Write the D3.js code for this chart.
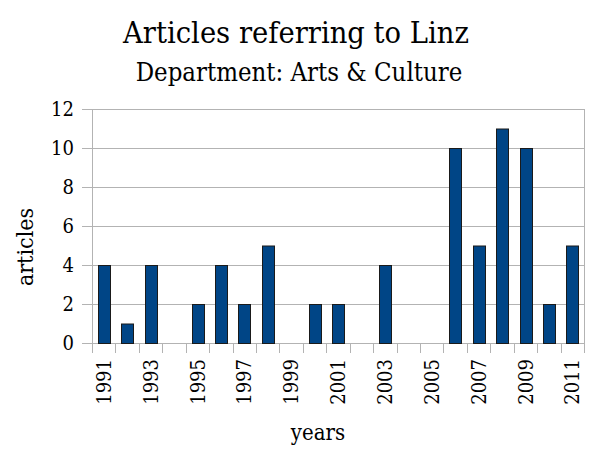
<!DOCTYPE html>
<html>
<head>
<meta charset="utf-8">
<script src="https://cdn.jsdelivr.net/npm/d3@7"></script>
<style>
  body { margin: 0; background: #fff; }
  text { font-family: "DejaVu Serif Condensed", "DejaVu Serif", serif; font-stretch: condensed; fill: #000; }
</style>
</head>
<body>
<div id="chart"></div>
<script>
const years = ["1991","1992","1993","1994","1995","1996","1997","1998","1999","2000",
  "2001","2002","2003","2004","2005","2006","2007","2008","2009","2010","2011"];
const articles = [4, 1, 4, 0, 2, 4, 2, 5, 0, 2, 2, 0, 4, 0, 0, 10, 5, 11, 10, 2, 5];
const yTicks = [0, 2, 4, 6, 8, 10, 12];
const yearLabels = ["1991","1993","1995","1997","1999","2001","2003","2005","2007","2009","2011"];

const width = 591, height = 450;
const plotL = 92, plotR = 584, plotT = 109, plotB = 343;
const grid = "#b3b3b3";

const data = years.map((yr, i) => ({ year: yr, n: articles[i] }));

const svg = d3.select("#chart")
  .append("svg")
  .attr("width", width)
  .attr("height", height);

const x = d3.scaleBand()
  .domain(years)
  .range([plotL, plotR])
  .padding(0);

const y = d3.scaleLinear()
  .domain([0, 12])
  .range([plotB, plotT]);

// horizontal gridlines with ticks sticking out left
svg.selectAll("line.hgrid")
  .data(yTicks)
  .enter()
  .append("line")
  .attr("x1", plotL - 10)
  .attr("x2", plotR)
  .attr("y1", d => y(d) + 0.5)
  .attr("y2", d => y(d) + 0.5)
  .attr("stroke", grid)
  .attr("stroke-width", 1);

// left axis line and right border
svg.append("line")
  .attr("x1", plotL + 0.5).attr("x2", plotL + 0.5)
  .attr("y1", plotT).attr("y2", plotB + 10)
  .attr("stroke", grid);
svg.append("line")
  .attr("x1", plotR + 0.5).attr("x2", plotR + 0.5)
  .attr("y1", plotT).attr("y2", plotB + 10)
  .attr("stroke", grid);

// category ticks below the axis
svg.selectAll("line.xtick")
  .data(years.slice(1))
  .enter()
  .append("line")
  .attr("x1", d => Math.round(x(d)) + 0.5)
  .attr("x2", d => Math.round(x(d)) + 0.5)
  .attr("y1", plotB)
  .attr("y2", plotB + 10)
  .attr("stroke", grid);

// bars
const barW = x.bandwidth() * 0.5;
svg.selectAll("rect.bar")
  .data(data.filter(d => d.n > 0))
  .enter()
  .append("rect")
  .attr("x", d => Math.round(x(d.year) + (x.bandwidth() - barW) / 2) + 0.5)
  .attr("y", d => y(d.n) + 0.5)
  .attr("width", Math.round(barW))
  .attr("height", d => y(0) - y(d.n))
  .attr("fill", "#004586")
  .attr("stroke", "#1a1a1a")
  .attr("stroke-width", 1);

// y tick labels
svg.selectAll("text.ylab")
  .data(yTicks)
  .enter()
  .append("text")
  .attr("x", plotL - 18)
  .attr("y", d => y(d))
  .attr("dy", "0.36em")
  .attr("text-anchor", "end")
  .style("font-size", "20px")
  .text(d => d);

// x tick labels, rotated
svg.selectAll("text.xlab")
  .data(yearLabels)
  .enter()
  .append("text")
  .attr("transform", d => `translate(${x(d) + x.bandwidth() / 2},${plotB + 16}) rotate(-90)`)
  .attr("dy", "0.36em")
  .attr("text-anchor", "end")
  .style("font-size", "20px")
  .text(d => d);

// titles
svg.append("text")
  .attr("x", 296)
  .attr("y", 43)
  .attr("text-anchor", "middle")
  .style("font-size", "30.5px")
  .text("Articles referring to Linz");

svg.append("text")
  .attr("x", 299)
  .attr("y", 81)
  .attr("text-anchor", "middle")
  .style("font-size", "25.5px")
  .text("Department: Arts & Culture");

svg.append("text")
  .attr("x", 318)
  .attr("y", 440)
  .attr("text-anchor", "middle")
  .style("font-size", "22px")
  .text("years");

svg.append("text")
  .attr("transform", `translate(33,247) rotate(-90)`)
  .attr("text-anchor", "middle")
  .style("font-size", "23px")
  .text("articles");
</script>
</body>
</html>
